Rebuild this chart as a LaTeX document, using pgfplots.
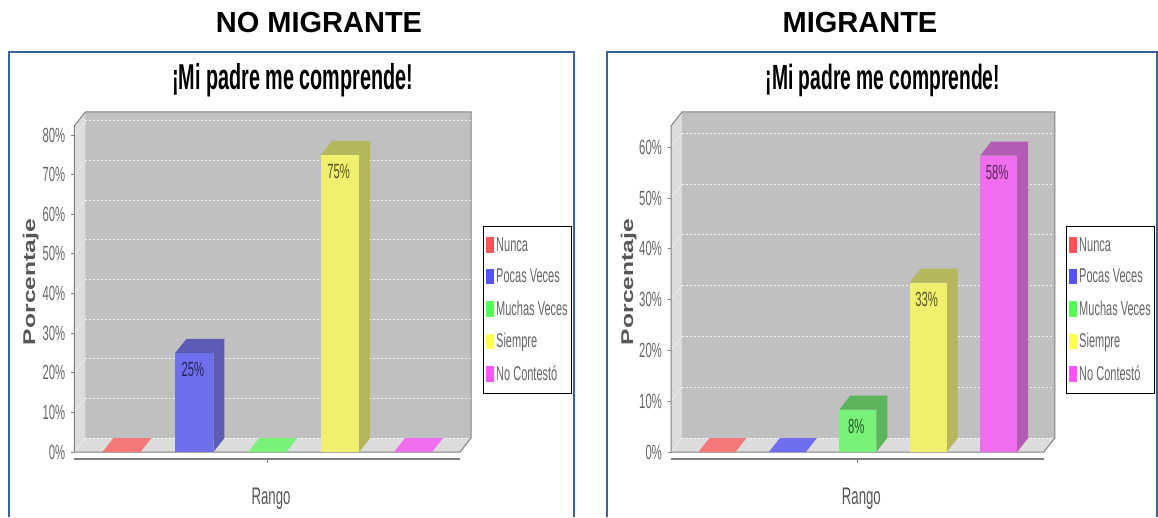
\documentclass[border=0pt]{standalone}
\usepackage{fontspec}
\setmainfont{Liberation Sans}
\newfontfamily\narrowf[FakeStretch=0.55]{Liberation Sans}
\newfontfamily\titlef[FakeStretch=0.55]{Liberation Sans}
\newfontfamily\widef[FakeStretch=1.45]{Liberation Sans}
\usepackage{pgfplots}
\pgfplotsset{compat=1.18}

\definecolor{framecol}{HTML}{3A6499}
\definecolor{wallcol}{HTML}{C0C0C0}
\definecolor{floorcol}{HTML}{DCDCDC}
\definecolor{edgecol}{HTML}{808080}
\definecolor{txtcol}{HTML}{666666}
\definecolor{redF}{HTML}{F47878}
\definecolor{bluF}{HTML}{6E6EEF}
\definecolor{bluS}{HTML}{5C5CB4}
\definecolor{grnF}{HTML}{78F278}
\definecolor{grnS}{HTML}{5CB45C}
\definecolor{yelF}{HTML}{F0F06E}
\definecolor{yelS}{HTML}{B6B65C}
\definecolor{magF}{HTML}{F06EEE}
\definecolor{magS}{HTML}{B45CB4}
\definecolor{redL}{HTML}{FF5555}
\definecolor{bluL}{HTML}{5555FF}
\definecolor{grnL}{HTML}{55FF55}
\definecolor{yelL}{HTML}{FFFF55}
\definecolor{magL}{HTML}{FF55FF}

% limits of one panel: xmin, xmax, depth in x, ymin, ymax, depth in y
\newcommand{\setpanel}[6]{%
  \def\xa{#1}\def\xc{#2}\def\dx{#3}\def\ya{#4}\def\yc{#5}\def\dy{#6}%
  \pgfmathsetmacro\xb{#2-#3}\pgfmathsetmacro\xd{#1+#3}\pgfmathsetmacro\yf{#5-#6}}

% walls, floor and the grid of the back wall
\newcommand{\walls}[1]{%
  \addplot[forget plot,draw=none,fill=wallcol] coordinates {(\xd,\dy)(\xc,\dy)(\xc,\yc)(\xd,\yc)} --cycle;
  \addplot[forget plot,draw=none,fill=floorcol] coordinates {(\xa,0)(\xd,\dy)(\xd,\yc)(\xa,\yf)} --cycle;
  \addplot[forget plot,draw=none,fill=floorcol] coordinates {(\xa,0)(\xb,0)(\xc,\dy)(\xd,\dy)} --cycle;
  \pgfplotsforeachungrouped \v in {#1}{%
    \pgfmathsetmacro\yg{\v+\dy}%
    \edef\tmp{\noexpand\addplot[forget plot,white,opacity=.85,line width=1pt,dash pattern=on 2pt off 2pt]
      coordinates {(\xd,\yg)(\xc,\yg)};
      \noexpand\addplot[forget plot,white,opacity=.5,line width=0.6pt]
      coordinates {(\xa,\v)(\xd,\yg)};}\tmp}
  \addplot[forget plot,edgecol,line width=1pt] coordinates {(\xa,0)(\xa,\yf)(\xd,\yc)(\xc,\yc)(\xc,\dy)(\xb,0)(\xa,0)};
  \addplot[forget plot,edgecol,line width=1.5pt] coordinates {(\xa,\ya)(\xb,\ya)};
}

% category position, half bar width, value, front colour, side colour
\newcommand{\barthreed}[5]{%
  \pgfmathsetmacro\xl{#1-#2}\pgfmathsetmacro\xr{#1+#2}%
  \pgfmathsetmacro\xls{\xl+\dx}\pgfmathsetmacro\xrs{\xr+\dx}\pgfmathsetmacro\yt{#3+\dy}%
  \edef\tmp{\noexpand\addplot[forget plot,draw=none,fill=#5] coordinates {(\xr,0)(\xrs,\dy)(\xrs,\yt)(\xr,#3)} --cycle;
    \noexpand\addplot[forget plot,draw=none,fill=#5] coordinates {(\xl,#3)(\xr,#3)(\xrs,\yt)(\xls,\yt)} --cycle;
    \noexpand\addplot[forget plot,ybar,bar shift=0pt,draw=none,fill=#4,barlabel] coordinates {(#1,#3)};}\tmp}
% a category at 0%: only the patch on the floor
\newcommand{\zerobar}[3]{%
  \pgfmathsetmacro\xl{#1-#2}\pgfmathsetmacro\xr{#1+#2}%
  \pgfmathsetmacro\xls{\xl+\dx}\pgfmathsetmacro\xrs{\xr+\dx}%
  \edef\tmp{\noexpand\addplot[forget plot,draw=none,fill=#3] coordinates {(\xl,0)(\xr,0)(\xrs,\dy)(\xls,\dy)} --cycle;}\tmp}

\newcommand{\panellegend}{%
  \addlegendimage{redL}\addlegendentry{Nunca}
  \addlegendimage{bluL}\addlegendentry{Pocas Veces}
  \addlegendimage{grnL}\addlegendentry{Muchas Veces}
  \addlegendimage{yelL}\addlegendentry{Siempre}
  \addlegendimage{magL}\addlegendentry{No Contest\'o}}

\pgfplotsset{
  barlabel/.style={
    nodes near coords={\pgfmathprintnumber[fixed,precision=0]{\pgfplotspointmeta}\%},
    every node near coord/.append style={anchor=north,yshift=-9pt,xshift=-1.5pt,inner sep=0pt,
      font=\fontsize{20.5}{20.5}\narrowf,text=black,text opacity=.65}},
  panel/.style={
    scale only axis,height=347pt,clip=false,
    axis line style={draw=none},
    tick align=outside,ytick pos=left,xtick pos=bottom,
    major tick length=3.5pt,tick style={edgecol,line width=.8pt},
    xtick={2},xticklabels={},
    /pgf/number format/assume math mode=true,
    yticklabel={\pgfmathprintnumber{\tick}\%},
    yticklabel style={font=\fontsize{20.5}{20.5}\narrowf,text=txtcol,inner sep=1.5pt,xshift=-4pt},
    title style={text=black,anchor=center,yshift=0pt},
    xlabel={Rango},
    xlabel style={at={(axis description cs:.496,-.115)},anchor=center,font=\fontsize{24}{24}\narrowf,text=txtcol!85!black},
    ylabel={Porcentaje},
    ylabel style={at={(axis description cs:-.11,.51)},anchor=center,font=\fontsize{17}{17}\widef\bfseries,text=txtcol!85!black},
    legend image code/.code={\fill[##1] (0pt,-7pt) rectangle (7.5pt,7pt);},
    legend style={anchor=west,draw=black,line width=1.2pt,fill=white,inner xsep=2pt,inner ysep=9pt,
      font=\fontsize{20}{20}\narrowf,text=txtcol,row sep=12.5pt,cells={anchor=west}},
  }
}

\begin{document}
\begin{tikzpicture}
\path[use as bounding box,fill=white] (0pt,0pt) rectangle (1158pt,517pt);

\node[font=\fontsize{29}{29}\bfseries] at (319pt,494.5pt) {NO MIGRANTE};
\node[font=\fontsize{29}{29}\bfseries] at (860pt,494.5pt) {MIGRANTE};
\draw[framecol,line width=2.4pt] (9pt,0pt) -- (9pt,465pt) -- (574pt,465pt) -- (574pt,0pt);
\draw[framecol,line width=2.4pt] (607pt,0pt) -- (607pt,465pt) -- (1157pt,465pt) -- (1157pt,0pt);

\setpanel{-0.647}{4.794}{0.151}{-1.767}{85.80}{3.533}
\begin{axis}[panel,at={(74.3pt,58pt)},anchor=south west,width=396.7pt,
    xmin=\xa,xmax=\xc,ymin=\ya,ymax=\yc,
    ytick={0,10,20,30,40,50,60,70,80},bar width=38pt,
    title={¡Mi padre me comprende!},
    title style={at={(axis description cs:.5505,1.074)},font=\fontsize{36}{36}\titlef\bfseries},
    legend style={at={(1.03,.430)}}]
  \walls{0,10,20,30,40,50,60,70,80}
  \zerobar{0}{.261}{redF}
  \barthreed{1}{.261}{25}{bluF}{bluS}
  \zerobar{2}{.261}{grnF}
  \barthreed{3}{.261}{75}{yelF}{yelS}
  \zerobar{4}{.261}{magF}
  \panellegend
\end{axis}

\setpanel{-0.653}{4.798}{0.156}{-1.378}{66.93}{2.756}
\begin{axis}[panel,at={(671pt,58pt)},anchor=south west,width=383.8pt,
    xmin=\xa,xmax=\xc,ymin=\ya,ymax=\yc,
    ytick={0,10,20,30,40,50,60},bar width=37pt,
    title={¡Mi padre me comprende!},
    title style={at={(axis description cs:.552,1.074)},font=\fontsize{35}{35}\titlef\bfseries},
    legend style={at={(1.029,.430)}}]
  \walls{0,10,20,30,40,50,60}
  \zerobar{0}{.263}{redF}
  \zerobar{1}{.263}{bluF}
  \barthreed{2}{.263}{8.33}{grnF}{grnS}
  \barthreed{3}{.263}{33.33}{yelF}{yelS}
  \barthreed{4}{.263}{58.33}{magF}{magS}
  \panellegend
\end{axis}
\end{tikzpicture}
\end{document}
